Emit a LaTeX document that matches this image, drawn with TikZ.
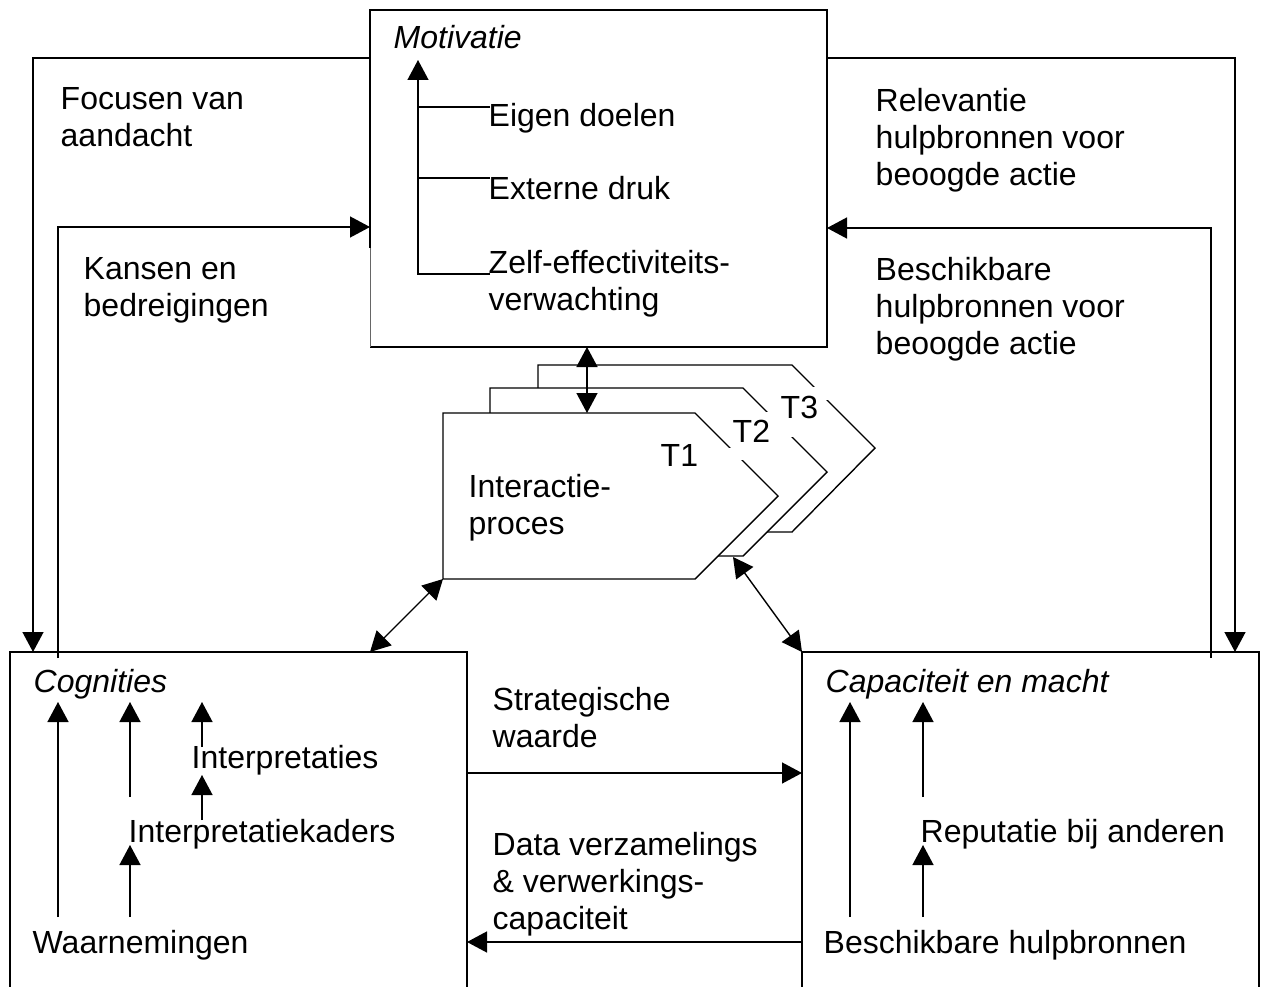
\documentclass[tikz,border=0pt]{standalone}
\usepackage{fontspec}
\setmainfont{Liberation Sans}
\usetikzlibrary{arrows.meta}
\tikzset{
  lbl/.style={inner sep=0pt, font=\fontsize{32}{37}\selectfont},
  lblb/.style={lbl, anchor=base west},
  lblm/.style={lbl, anchor=north west, align=left},
  ttl/.style={lblb, font=\fontsize{32}{37}\selectfont\itshape},
  tip/.style={-{Triangle[length=20pt,width=21pt]}},
  dtip/.style={{Triangle[length=20pt,width=21pt]}-{Triangle[length=20pt,width=21pt]}},
  boxline/.style={line width=1.4pt},
  tshape/.style={line width=1.4pt, fill=white},
  gapmask/.style={fill=white, draw=none}
}
\begin{document}
\begin{tikzpicture}[x=1pt,y=-1pt,line width=1.4pt]
\useasboundingbox (0,0) rectangle (1269,987);

% ---------- boxes ----------
\coordinate (mTL) at (370,10);
\coordinate (mTR) at (827,10);
\coordinate (mBR) at (827,347);
\coordinate (mBL) at (370,347);
\coordinate (mML) at (370,248);
\draw[boxline] (mML) -- (mTL) -- (mTR) -- (mBR) -- (mBL);
\draw[line width=0.7pt, black!60] (mML) -- (mBL);

\coordinate (cTL) at (10,652);
\coordinate (cTR) at (467,652);
\coordinate (cBL) at (10,987);
\coordinate (cBR) at (467,987);
\draw[boxline] (cBL) -- (cTL) -- (cTR) -- (cBR);

\coordinate (kTL) at (802,652);
\coordinate (kTR) at (1259,652);
\coordinate (kBL) at (802,987);
\coordinate (kBR) at (1259,987);
\draw[boxline] (kBL) -- (kTL) -- (kTR) -- (kBR);

% ---------- interaction shapes (back to front) ----------
\coordinate (t3a) at (538,365); \coordinate (t3b) at (792,365);
\coordinate (t3c) at (875,448); \coordinate (t3d) at (792,532);
\coordinate (t3e) at (538,532);
\draw[tshape] (t3a) -- (t3b) -- (t3c) -- (t3d) -- (t3e) -- cycle;

\coordinate (t2a) at (490,388); \coordinate (t2b) at (743,388);
\coordinate (t2c) at (827,472); \coordinate (t2d) at (743,556);
\coordinate (t2e) at (490,556);
\draw[tshape] (t2a) -- (t2b) -- (t2c) -- (t2d) -- (t2e) -- cycle;

\coordinate (t1a) at (443,413); \coordinate (t1b) at (695,413);
\coordinate (t1c) at (778,496); \coordinate (t1d) at (695,579);
\coordinate (t1e) at (443,579);
\draw[tshape] (t1a) -- (t1b) -- (t1c) -- (t1d) -- (t1e) -- cycle;

% gaps around the T labels
\fill[gapmask] (726,448) rectangle (748,460);
\fill[gapmask] (762,412) rectangle (797,437);
\fill[gapmask] (808,387) rectangle (832,400);

\node[lblb] (T1) at (660,466) {T1};
\node[lblb] (T2) at (732,442) {T2};
\node[lblb] (T3) at (780,418) {T3};
\node[lblm] (inter) at (468,474) {Interactie-\\proces};

% ---------- Motivatie contents ----------
\node[ttl] (mot) at (393,49) {Motivatie};
\node[lblb] (eig) at (488,127) {Eigen doelen};
\node[lblb] (ext) at (488,200) {Externe druk};
\node[lblm] (zelf) at (488,250) {Zelf-effectiviteits-\\verwachting};
\coordinate (bTop) at (418,60);
\coordinate (b1) at (418,107); \coordinate (b1e) at (490,107);
\coordinate (b2) at (418,178); \coordinate (b2e) at (490,178);
\coordinate (b3) at (418,274); \coordinate (b3e) at (490,274);
\draw (b1e) -- (b1);
\draw (b2e) -- (b2);
\draw[tip] (b3e) -- (b3) -- (bTop);

% ---------- outer feedback loops ----------
\node[lblm] (foc) at (60,87) {Focusen van\\aandacht};
\node[lblm] (kans) at (83,257) {Kansen en\\bedreigingen};
\node[lblm] (rel) at (875,88) {Relevantie\\hulpbronnen voor\\beoogde actie};
\node[lblm] (besch) at (875,257) {Beschikbare\\hulpbronnen voor\\beoogde actie};

\coordinate (fa) at (370,58); \coordinate (fb) at (33,58); \coordinate (fc) at (33,652);
\draw[tip] (fa) -- (fb) -- (fc);
\coordinate (ka) at (58,658); \coordinate (kb) at (58,227); \coordinate (kc) at (370,227);
\draw[tip] (ka) -- (kb) -- (kc);
\coordinate (ra) at (827,58); \coordinate (rb) at (1235,58); \coordinate (rc) at (1235,652);
\draw[tip] (ra) -- (rb) -- (rc);
\coordinate (ba) at (1211,658); \coordinate (bb) at (1211,228); \coordinate (bc) at (827,228);
\draw[tip] (ba) -- (bb) -- (bc);

% ---------- interaction arrows ----------
\coordinate (im1) at (587,347); \coordinate (im2) at (587,413);
\draw[dtip] (im1) -- (im2);
\coordinate (ic1) at (443,579); \coordinate (ic2) at (370,652);
\draw[dtip] (ic1) -- (ic2);
\coordinate (ik1) at (733,557); \coordinate (ik2) at (802,652);
\draw[dtip] (ik1) -- (ik2);

% ---------- middle arrows ----------
\node[lblm] (strat) at (492,687) {Strategische\\waarde};
\node[lblm] (data) at (492,832) {Data verzamelings\\\& verwerkings-\\capaciteit};
\coordinate (s1) at (467,773); \coordinate (s2) at (802,773);
\draw[tip] (s1) -- (s2);
\coordinate (d1) at (802,942); \coordinate (d2) at (467,942);
\draw[tip] (d1) -- (d2);

% ---------- Cognities contents ----------
\node[ttl] (cog) at (33,692) {Cognities};
\node[lblb] (interp) at (191,768) {Interpretaties};
\node[lblb] (kaders) at (128,842) {Interpretatiekaders};
\node[lblb] (waar) at (32,953) {Waarnemingen};
\coordinate (ca1) at (58,917); \coordinate (ca2) at (58,702);
\draw[tip] (ca1) -- (ca2);
\coordinate (cb1) at (130,797); \coordinate (cb2) at (130,702);
\draw[tip] (cb1) -- (cb2);
\coordinate (cc1) at (202,747); \coordinate (cc2) at (202,702);
\draw[tip] (cc1) -- (cc2);
\coordinate (cd1) at (202,820); \coordinate (cd2) at (202,775);
\draw[tip] (cd1) -- (cd2);
\coordinate (ce1) at (130,917); \coordinate (ce2) at (130,845);
\draw[tip] (ce1) -- (ce2);

% ---------- Capaciteit contents ----------
\node[ttl] (cap) at (825,692) {Capaciteit en macht};
\node[lblb] (rep) at (920,842) {Reputatie bij anderen};
\node[lblb] (bh) at (823,953) {Beschikbare hulpbronnen};
\coordinate (pa1) at (850,917); \coordinate (pa2) at (850,702);
\draw[tip] (pa1) -- (pa2);
\coordinate (pb1) at (923,797); \coordinate (pb2) at (923,702);
\draw[tip] (pb1) -- (pb2);
\coordinate (pc1) at (923,917); \coordinate (pc2) at (923,845);
\draw[tip] (pc1) -- (pc2);
\end{tikzpicture}
\end{document}
